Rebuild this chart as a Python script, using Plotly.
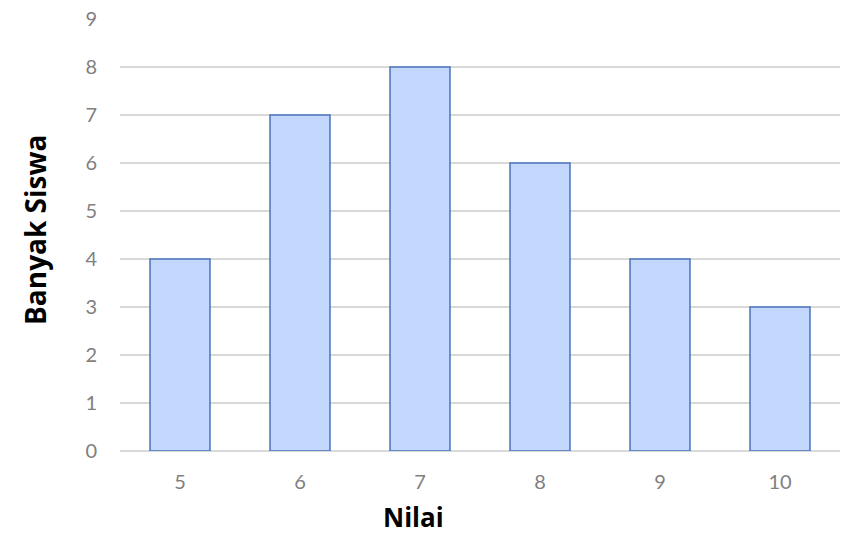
import plotly.graph_objects as go

categories = ["5", "6", "7", "8", "9", "10"]
values = [4, 7, 8, 6, 4, 3]
y_ticks = [0, 1, 2, 3, 4, 5, 6, 7, 8, 9]

fig = go.Figure()
fig.add_trace(go.Bar(
    x=categories, y=values,
    marker=dict(color="#c3d6fb", line=dict(color="#4a74c0", width=1.5)),
    width=0.5,
))

fig.update_layout(
    width=849, height=531,
    margin=dict(l=112, r=17, t=11, b=88, autoexpand=False),
    plot_bgcolor="white", paper_bgcolor="white",
    showlegend=False,
    font=dict(family="Lato, Open Sans, sans-serif", color="#808080", size=20),
    xaxis=dict(
        type="category", showgrid=False, zeroline=False, showline=False,
        ticks="", tickfont=dict(size=20, color="#808080"), ticklabelstandoff=17,
    ),
    yaxis=dict(
        range=[0, 9.002], tickvals=y_ticks, showgrid=True, gridcolor="#d9d9d9", gridwidth=1.5,
        zeroline=True, zerolinecolor="#d9d9d9", zerolinewidth=1.5, showline=False,
        ticks="", tickfont=dict(size=20, color="#808080"), ticklabelstandoff=22,
        ticklabeloverflow="allow",
    ),
    annotations=[
        dict(text="<b>Nilai</b>", x=(413 - 120) / 720, y=-66 / 432, xref="paper", yref="paper",
             showarrow=False, font=dict(size=26, color="black", family="Open Sans, sans-serif"),
             xanchor="center", yanchor="middle"),
        dict(text="<b>Banyak Siswa</b>", x=-85 / 720, y=(451 - 230) / 432, xref="paper", yref="paper",
             showarrow=False, textangle=-90, font=dict(size=28, color="black", family="Open Sans, sans-serif"),
             xanchor="center", yanchor="middle"),
    ],
)

fig.write_html("out.html")
